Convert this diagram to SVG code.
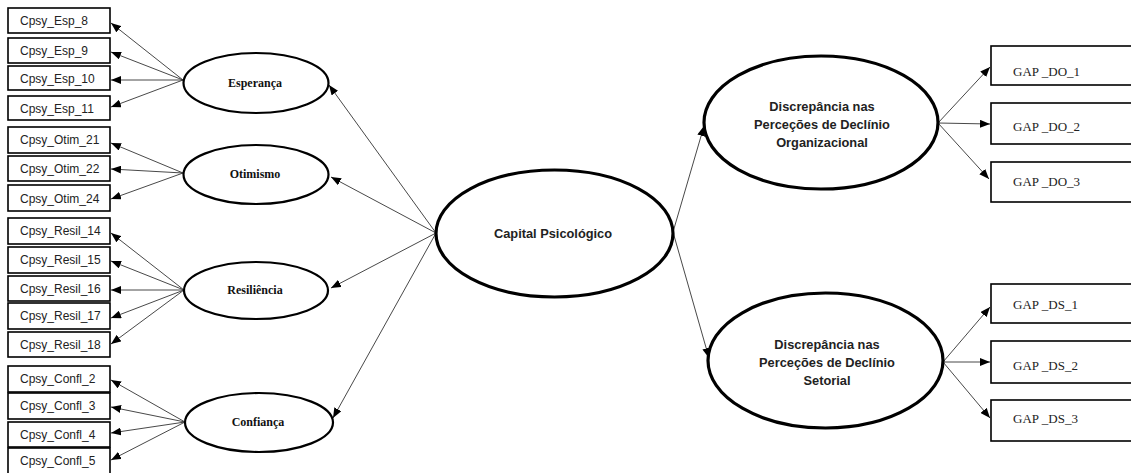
<svg xmlns="http://www.w3.org/2000/svg" width="1131" height="473" viewBox="0 0 1131 473">
  <style>
    .item rect { fill: #fff; stroke: #000; stroke-width: 1.6; }
    .item text { font-family: "Liberation Sans", Arial, sans-serif; font-size: 12px; fill: #222; }
    .gap rect { fill: #fff; stroke: #000; stroke-width: 1.6; }
    .gap text { font-family: "Liberation Serif", "Times New Roman", serif; font-size: 13px; fill: #222; }
    .factor ellipse { fill: #fff; stroke: #000; stroke-width: 2.2; }
    .factor text { font-family: "Liberation Serif", "Times New Roman", serif; font-weight: bold; font-size: 12px; text-anchor: middle; fill: #111; }
    .latent ellipse { fill: #fff; stroke: #000; stroke-width: 3.2; }
    .latent text { font-family: "Liberation Sans", Arial, sans-serif; font-weight: bold; font-size: 12.8px; text-anchor: middle; fill: #222; }
    #connectors line { stroke: #333; stroke-width: 0.9; marker-end: url(#arrow); }
  </style>
  <defs>
    <marker id="arrow" markerUnits="userSpaceOnUse" markerWidth="10" markerHeight="8" refX="10" refY="4" orient="auto">
      <path d="M0,0 L10,4 L0,8 z" fill="#000"/>
    </marker>
  </defs>
  <rect width="1131" height="473" fill="#fff"/>

  <!-- connectors -->
  <g id="connectors">
    <!-- Esperança indicators -->
    <line x1="183" y1="80" x2="111" y2="23"/>
    <line x1="183" y1="80" x2="111" y2="52"/>
    <line x1="183" y1="80" x2="111" y2="80"/>
    <line x1="183" y1="80" x2="111" y2="107"/>
    <!-- Otimismo indicators -->
    <line x1="183" y1="173" x2="111" y2="143"/>
    <line x1="183" y1="173" x2="111" y2="169"/>
    <line x1="183" y1="173" x2="111" y2="199"/>
    <!-- Resiliência indicators -->
    <line x1="184" y1="290" x2="111" y2="233"/>
    <line x1="184" y1="290" x2="111" y2="261"/>
    <line x1="184" y1="290" x2="111" y2="290"/>
    <line x1="184" y1="290" x2="111" y2="318"/>
    <line x1="184" y1="290" x2="111" y2="344"/>
    <!-- Confiança indicators -->
    <line x1="185" y1="422" x2="111" y2="380"/>
    <line x1="185" y1="422" x2="111" y2="407"/>
    <line x1="185" y1="422" x2="111" y2="433"/>
    <line x1="185" y1="422" x2="111" y2="460"/>
    <!-- Capital Psicológico to first-order factors -->
    <line x1="436" y1="233" x2="329" y2="85"/>
    <line x1="436" y1="233" x2="331" y2="177"/>
    <line x1="436" y1="233" x2="331" y2="288"/>
    <line x1="436" y1="233" x2="333" y2="418"/>
    <!-- Capital Psicológico to outcomes -->
    <line x1="673" y1="232" x2="704" y2="126"/>
    <line x1="673" y1="232" x2="709" y2="358"/>
    <!-- Organizacional indicators -->
    <line x1="938" y1="123" x2="990" y2="67"/>
    <line x1="938" y1="123" x2="990" y2="124"/>
    <line x1="938" y1="123" x2="989" y2="179"/>
    <!-- Setorial indicators -->
    <line x1="943" y1="362" x2="990" y2="307"/>
    <line x1="943" y1="362" x2="990" y2="362"/>
    <line x1="943" y1="362" x2="990" y2="418"/>
  </g>

  <!-- observed items, left -->
  <g id="esp8" class="item"><rect x="8" y="8" width="102" height="25"/><text x="20" y="25">Cpsy_Esp_8</text></g>
  <g id="esp9" class="item"><rect x="8" y="38" width="102" height="25"/><text x="20" y="55">Cpsy_Esp_9</text></g>
  <g id="esp10" class="item"><rect x="8" y="66" width="102" height="24"/><text x="20" y="83">Cpsy_Esp_10</text></g>
  <g id="esp11" class="item"><rect x="8" y="96" width="102" height="24"/><text x="20" y="113">Cpsy_Esp_11</text></g>
  <g id="otim21" class="item"><rect x="8" y="127" width="102" height="26"/><text x="20" y="144">Cpsy_Otim_21</text></g>
  <g id="otim22" class="item"><rect x="8" y="156" width="102" height="25"/><text x="20" y="173">Cpsy_Otim_22</text></g>
  <g id="otim24" class="item"><rect x="8" y="185" width="102" height="26"/><text x="20" y="203">Cpsy_Otim_24</text></g>
  <g id="resil14" class="item"><rect x="8" y="218" width="102" height="26"/><text x="20" y="235">Cpsy_Resil_14</text></g>
  <g id="resil15" class="item"><rect x="8" y="247" width="102" height="26"/><text x="20" y="264">Cpsy_Resil_15</text></g>
  <g id="resil16" class="item"><rect x="8" y="276" width="102" height="25"/><text x="20" y="293">Cpsy_Resil_16</text></g>
  <g id="resil17" class="item"><rect x="8" y="303" width="102" height="26"/><text x="20" y="320">Cpsy_Resil_17</text></g>
  <g id="resil18" class="item"><rect x="8" y="332" width="102" height="25"/><text x="20" y="349">Cpsy_Resil_18</text></g>
  <g id="confl2" class="item"><rect x="8" y="366" width="102" height="26"/><text x="20" y="383">Cpsy_Confl_2</text></g>
  <g id="confl3" class="item"><rect x="8" y="393" width="102" height="26"/><text x="20" y="410">Cpsy_Confl_3</text></g>
  <g id="confl4" class="item"><rect x="8" y="422" width="102" height="25"/><text x="20" y="439">Cpsy_Confl_4</text></g>
  <g id="confl5" class="item"><rect x="8" y="448" width="102" height="28"/><text x="20" y="465">Cpsy_Confl_5</text></g>

  <!-- first-order factors -->
  <g id="esperanca" class="factor"><ellipse cx="256" cy="83" rx="72.5" ry="30"/><text x="255" y="87">Esperança</text></g>
  <g id="otimismo" class="factor"><ellipse cx="256" cy="174.5" rx="72.5" ry="29.5"/><text x="255" y="178">Otimismo</text></g>
  <g id="resiliencia" class="factor"><ellipse cx="256" cy="290.5" rx="72" ry="28.5"/><text x="255" y="294">Resiliência</text></g>
  <g id="confianca" class="factor"><ellipse cx="259" cy="422.5" rx="74" ry="29.5"/><text x="258" y="426">Confiança</text></g>

  <!-- second-order factor -->
  <g id="capital" class="latent"><ellipse cx="554.5" cy="233.5" rx="118.5" ry="63.5"/><text x="553" y="238">Capital Psicológico</text></g>

  <!-- outcome factors -->
  <g id="organizacional" class="latent">
    <ellipse cx="821" cy="122.5" rx="117" ry="66.5"/>
    <text x="822" y="111">Discrepância nas</text>
    <text x="822" y="129">Perceções de Declínio</text>
    <text x="822" y="147">Organizacional</text>
  </g>
  <g id="setorial" class="latent">
    <ellipse cx="825.5" cy="360.5" rx="117.5" ry="67.5"/>
    <text x="827" y="349">Discrepância nas</text>
    <text x="827" y="367">Perceções de Declínio</text>
    <text x="827" y="385">Setorial</text>
  </g>

  <!-- observed items, right -->
  <g id="gap_do_1" class="gap"><rect x="991" y="46" width="150" height="39"/><text x="1013" y="76">GAP _DO_1</text></g>
  <g id="gap_do_2" class="gap"><rect x="991" y="103" width="150" height="41"/><text x="1013" y="131">GAP _DO_2</text></g>
  <g id="gap_do_3" class="gap"><rect x="991" y="162" width="150" height="40"/><text x="1013" y="186">GAP _DO_3</text></g>
  <g id="gap_ds_1" class="gap"><rect x="991" y="284" width="150" height="39"/><text x="1013" y="309">GAP _DS_1</text></g>
  <g id="gap_ds_2" class="gap"><rect x="991" y="341" width="150" height="42"/><text x="1013" y="370">GAP _DS_2</text></g>
  <g id="gap_ds_3" class="gap"><rect x="991" y="400" width="150" height="41"/><text x="1013" y="423">GAP _DS_3</text></g>
</svg>
